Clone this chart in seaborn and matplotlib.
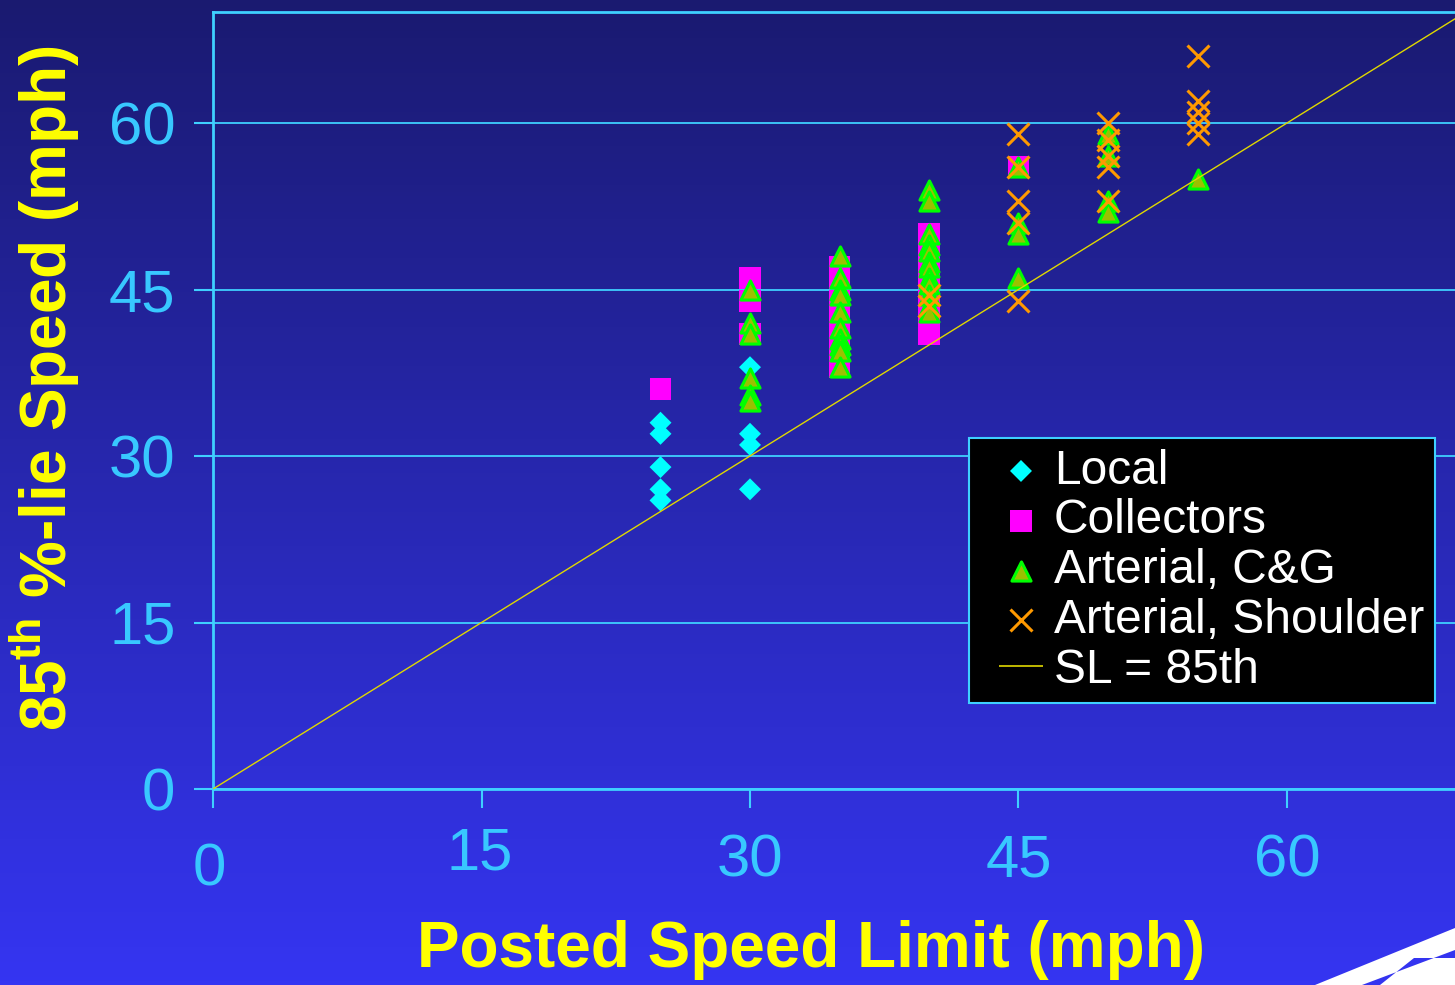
import numpy as np
import matplotlib
matplotlib.use('Agg')
import matplotlib.pyplot as plt
import matplotlib.transforms as mtransforms
from matplotlib.lines import Line2D
import seaborn as sns
from matplotlib.patches import Polygon

# ---------------- data ----------------
local_x = [25, 25, 25, 25, 25, 30, 30, 30, 30]
local_y = [33, 32, 29, 27, 26, 38, 32, 31, 27]

coll_x = [25, 30, 30, 30, 35, 35, 35, 35, 35, 35, 35, 40, 40, 40, 40, 40, 40, 45]
coll_y = [36, 46, 44, 41, 47, 46, 44, 42, 40, 39, 38, 50, 48, 46, 44, 42, 41, 56]

artcg_x = [30] * 6 + [35] * 10 + [40] * 12 + [45] * 4 + [50] * 4 + [55]
artcg_y = [45, 42, 41, 37, 35.5, 35,
           48, 46, 45, 44.5, 43, 41.5, 40.5, 40, 39.5, 38,
           54, 53, 50, 49, 48.5, 47.5, 47, 46, 45.5, 44.5, 43.5, 43,
           56, 51, 50, 46,
           59, 57, 53, 52,
           55]

artsh_x = [40, 40, 45, 45, 45, 45, 45, 50, 50, 50, 50, 50, 55, 55, 55, 55, 55]
artsh_y = [44.5, 43.5, 59, 56, 53, 51, 44, 60, 58.5, 57, 56, 53, 66, 62, 61, 60, 59]

sl_x = [0, 70]
sl_y = [0, 70]

xticks = [0, 15, 30, 45, 60]
yticks = [0, 15, 30, 45, 60]

# ---------------- style ----------------
sns.set_theme(style='white')
plt.rcParams['font.family'] = ['Liberation Sans', 'DejaVu Sans']
plt.rcParams['mathtext.fontset'] = 'custom'
plt.rcParams['mathtext.bf'] = 'Liberation Sans:bold'
plt.rcParams['mathtext.rm'] = 'Liberation Sans'

W, H = 1455, 985
fig = plt.figure(figsize=(W / 100, H / 100), dpi=100)

# background gradient
bg = fig.add_axes([0, 0, 1, 1], zorder=-10)
g = np.linspace(0, 1, 256)[:, None, None]
top = np.array([0x1a, 0x1a, 0x70]) / 255
bot = np.array([0x35, 0x35, 0xf2]) / 255
img = top + (bot - top) * g
bg.imshow(img, aspect='auto', extent=[0, 1, 0, 1])
bg.set_xlim(0, 1)
bg.set_ylim(0, 1)
bg.axis('off')


def P(px, py):
    return (px / W, 1 - py / H)


bg.add_patch(Polygon([P(1315, 985), P(1455, 928), P(1455, 985)], closed=True,
                     facecolor='white', edgecolor='none', transform=bg.transAxes))
bg.add_patch(Polygon([P(1362, 985), P(1455, 950), P(1455, 958), P(1414, 958), P(1380, 985)],
                     closed=True, facecolor='#3434f0', edgecolor='none', transform=bg.transAxes))

# main axes
ax = fig.add_axes([213 / W, 1 - 789 / H, (1466 - 213) / W, (789 - 12) / H])
ax.set_facecolor('none')

cyan = '#3fd0ff'
tickc = '#38c8ff'
line_c = '#e0d800'

sns.scatterplot(x=local_x, y=local_y, marker='D', color='#00ffff', s=125,
                edgecolor='none', label='Local', ax=ax, zorder=3)
sns.scatterplot(x=coll_x, y=coll_y, marker='s', color='#ff00ff', s=250,
                edgecolor='none', label='Collectors', ax=ax, zorder=3)
sns.scatterplot(x=artcg_x, y=artcg_y, marker='^', color='#9cc000', s=190,
                edgecolor='#00ff00', linewidth=2.2, label='Arterial, C&G', ax=ax, zorder=4)
sns.scatterplot(x=artsh_x, y=artsh_y, marker='x', color='#ff9900', s=250,
                linewidth=2.2, label='Arterial, Shoulder', ax=ax, zorder=5)
sns.lineplot(x=sl_x, y=sl_y, color=line_c, lw=1.0, label='SL = 85th', ax=ax, zorder=6)

ax.set_xlim(0, 70)
ax.set_ylim(0, 70)
ax.set_xticks(xticks)
ax.set_yticks(yticks)
ax.set_xlabel('')
ax.set_ylabel('')
ax.yaxis.grid(True, color=cyan, lw=1.3)
ax.xaxis.grid(False)
ax.set_axisbelow(True)

for side in ['left', 'top', 'bottom']:
    ax.spines[side].set_visible(True)
    ax.spines[side].set_color(cyan)
    ax.spines[side].set_linewidth(2)
ax.spines['right'].set_visible(False)

ax.tick_params(axis='x', direction='out', length=14, width=1.5, color=cyan,
               labelsize=43, labelcolor=tickc, pad=18, bottom=True)
ax.tick_params(axis='y', direction='out', length=14, width=1.5, color=cyan,
               labelsize=43, labelcolor=tickc, pad=13, left=True)

# legend
handles, labels = ax.get_legend_handles_labels()
handles = list(handles)
handles[-1] = Line2D([], [], linestyle='none', marker='_', markersize=32,
                     markeredgewidth=1.2, color=line_c)
leg = ax.legend(handles, labels, loc='upper left', bbox_to_anchor=(969 / W, 1 - 438 / H),
                bbox_transform=fig.transFigure, facecolor='black', edgecolor=cyan,
                framealpha=1, fancybox=False, fontsize=34.5, labelcolor='white',
                borderpad=0.22, handletextpad=-0.18, handlelength=1.73,
                labelspacing=0.1, borderaxespad=0)
leg.get_frame().set_linewidth(1.5)

fig.text(45 / W, 1 - 388 / H, r'85$^{\mathbf{th}}$ %-lie Speed (mph)', rotation=90,
         ha='center', va='center', fontsize=46, fontweight='bold', color='#ffff00')
fig.text(811 / W, 1 - 950 / H, 'Posted Speed Limit (mph)', ha='center', va='center',
         fontsize=46, fontweight='bold', color='#ffff00')

# small per-label offsets of the x tick labels, as in the original slide
offsets = {0: (-4, -9), 1: (-2, 7)}
for i, t in enumerate(ax.xaxis.get_major_ticks()):
    if i in offsets:
        dx, dy = offsets[i]
        tr = mtransforms.ScaledTranslation(dx / 100, dy / 100, fig.dpi_scale_trans)
        t.label1.set_transform(t.label1.get_transform() + tr)

fig.savefig('out.png', dpi=100)
